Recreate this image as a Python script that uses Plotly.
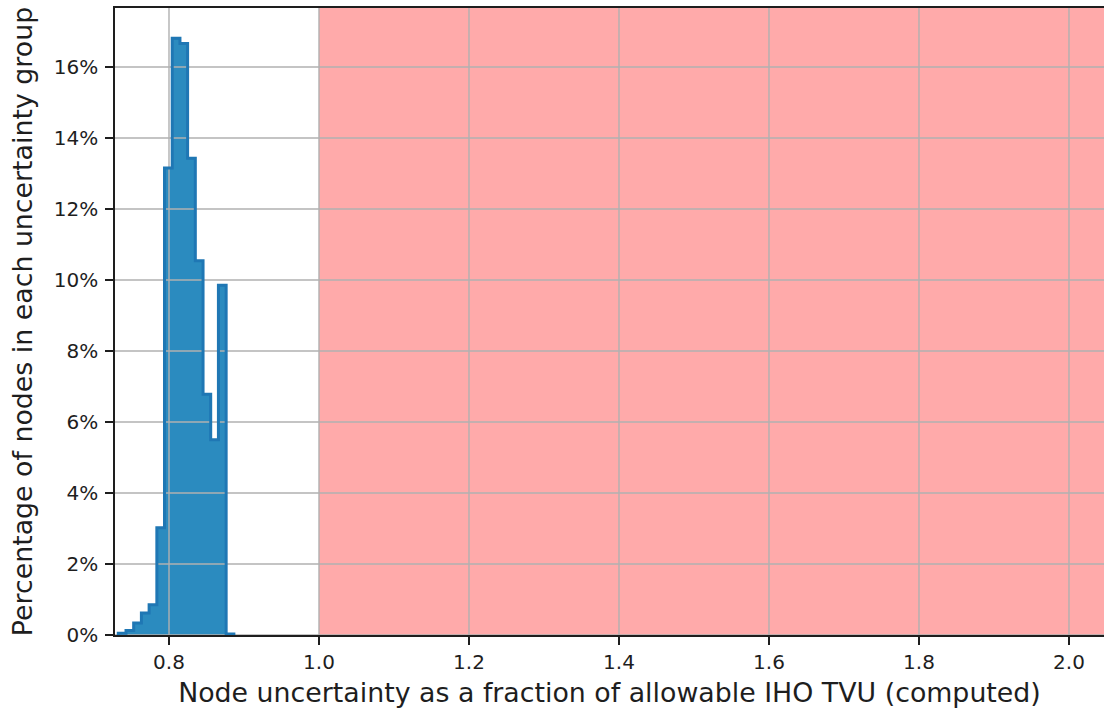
import plotly.graph_objects as go

# Histogram bin edges (fraction of allowable IHO TVU)
bin_edges = [0.7324, 0.7427, 0.7529, 0.7632, 0.7735, 0.7838, 0.7940, 0.8043,
             0.8146, 0.8248, 0.8351, 0.8454, 0.8556, 0.8659, 0.8762, 0.8865]
# Percentage of nodes in each bin
percentages = [0.05, 0.13, 0.34, 0.62, 0.85, 3.02, 13.15, 16.81, 16.66,
               13.43, 10.54, 6.78, 5.50, 9.85, 0.03]

x_ticks = [0.8, 1.0, 1.2, 1.4, 1.6, 1.8, 2.0]
y_ticks = [0, 2, 4, 6, 8, 10, 12, 14, 16]
x_range = [0.728, 2.0467]
y_range = [0, 17.66]
limit_start = 1.0

# step path
xs = [bin_edges[0]] + bin_edges[:-1] + [bin_edges[-1]]
ys = [0] + percentages + [0]

fig = go.Figure()
fig.add_shape(type="rect", xref="x", yref="paper", x0=limit_start, x1=x_range[1] + 0.1,
              y0=0, y1=1, fillcolor="rgb(255,170,170)", line_width=0, layer="below")

fig.add_trace(go.Scatter(x=xs, y=ys, mode="lines", line=dict(width=0, shape="hv"),
                         fill="tozeroy", fillcolor="rgb(43,139,191)", hoverinfo="skip",
                         showlegend=False))
grid_col = "rgb(176,176,176)"
for xv in x_ticks:
    fig.add_trace(go.Scatter(x=[xv, xv], y=y_range, mode="lines",
                             line=dict(color=grid_col, width=1.4), hoverinfo="skip",
                             showlegend=False))
for yv in y_ticks:
    fig.add_trace(go.Scatter(x=x_range, y=[yv, yv], mode="lines",
                             line=dict(color=grid_col, width=1.4), hoverinfo="skip",
                             showlegend=False))
fig.add_trace(go.Scatter(x=xs, y=ys, mode="lines",
                         line=dict(color="rgb(31,119,180)", width=3, shape="hv"),
                         showlegend=False))

font = "DejaVu Sans, sans-serif"
fig.update_layout(
    width=1104, height=713,
    margin=dict(l=115, r=0, t=8, b=78),
    paper_bgcolor="white", plot_bgcolor="white",
    font=dict(family=font, color="rgb(30,30,30)"),
    xaxis=dict(range=x_range, tickvals=x_ticks, ticktext=[f"{v:.1f}" for v in x_ticks],
               showgrid=False, zeroline=False, showline=True, linecolor="rgb(30,30,30)",
               linewidth=1.6, mirror=True, ticks="outside", ticklen=8, tickwidth=1.6,
               tickcolor="rgb(30,30,30)", tickfont=dict(size=20),
               title=dict(text="Node uncertainty as a fraction of allowable IHO TVU (computed)",
                          font=dict(size=26.8), standoff=10)),
    yaxis=dict(range=y_range, tickvals=y_ticks, ticktext=[f"{v}%" for v in y_ticks],
               showgrid=False, zeroline=False, showline=True, linecolor="rgb(30,30,30)",
               linewidth=1.6, ticks="outside", ticklen=8, tickwidth=1.6,
               tickcolor="rgb(30,30,30)", tickfont=dict(size=20), ticklabelstandoff=3,
               title=dict(text="Percentage of nodes in each uncertainty group",
                          font=dict(size=26.8), standoff=13)),
)

fig.write_html("out.html", config={"displayModeBar": False},
               post_script="document.body.style.margin='0px';document.body.style.overflow='hidden';")
